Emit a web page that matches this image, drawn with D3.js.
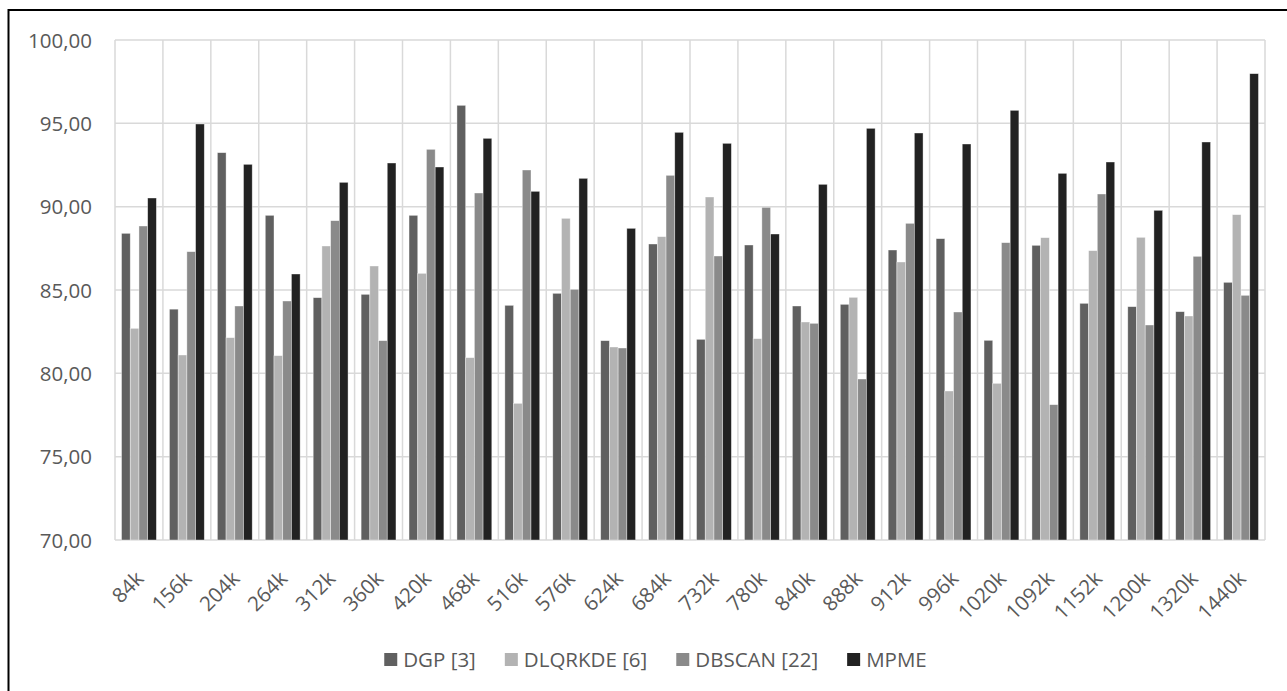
<!DOCTYPE html>
<html>
<head>
<meta charset="utf-8">
<script src="https://cdn.jsdelivr.net/npm/d3@7"></script>
<style>
  html, body { margin: 0; padding: 0; background: #fff; }
  svg { display: block; }
  text { font-family: "Open Sans", "DejaVu Sans", sans-serif; fill: #595959; }
</style>
</head>
<body>
<svg id="chart" width="1287" height="691"></svg>
<script>
// Data sizes on the horizontal axis
const categories = ["84k","156k","204k","264k","312k","360k","420k","468k","516k","576k","624k","684k",
                    "732k","780k","840k","888k","912k","996k","1020k","1092k","1152k","1200k","1320k","1440k"];

// Scores of each method per data size
const dgp     = [88.40,83.85,93.24,89.48,84.54,84.74,89.48,96.08,84.08,84.80,81.96,87.76,
                 82.04,87.70,84.04,84.14,87.40,88.08,81.98,87.68,84.20,84.00,83.70,85.46];
const dlqrkde = [82.70,81.10,82.14,81.06,87.64,86.44,86.00,80.94,78.20,89.30,81.58,88.20,
                 90.58,82.08,83.08,84.56,86.68,78.94,79.40,88.14,87.36,88.16,83.44,89.52];
const dbscan  = [88.84,87.30,84.04,84.34,89.16,81.96,93.44,90.82,92.20,85.04,81.52,91.88,
                 87.04,89.96,83.00,79.66,89.00,83.68,87.84,78.12,90.76,82.90,87.02,84.68];
const mpme    = [90.52,94.96,92.54,85.96,91.46,92.62,92.38,94.10,90.92,91.70,88.70,94.46,
                 93.80,88.36,91.34,94.70,94.42,93.76,95.78,92.00,92.68,89.78,93.88,97.98];

const seriesNames = ["DGP [3]", "DLQRKDE [6]", "DBSCAN [22]", "MPME"];
const seriesValues = [dgp, dlqrkde, dbscan, mpme];
const seriesColors = ["#606060", "#b3b3b3", "#8a8a8a", "#222222"];

const yTicks = [70, 75, 80, 85, 90, 95, 100];

const svg = d3.select("#chart");

// Outer frame (only its top and left edges fall inside the page)
svg.append("rect")
  .attr("x", 8.5).attr("y", 10)
  .attr("width", 1300).attr("height", 700)
  .attr("fill", "none").attr("stroke", "#000").attr("stroke-width", 2);

const plot = { left: 115, right: 1265, top: 40, bottom: 540 };

const gap = 1.5 / 5.5;
const x0 = d3.scaleBand()
  .domain(categories)
  .range([plot.left, plot.right])
  .paddingInner(gap)
  .paddingOuter(gap / 2);

const x1 = d3.scaleBand()
  .domain(d3.range(seriesNames.length))
  .range([0, x0.bandwidth()]);

const y = d3.scaleLinear().domain([70, 100]).range([plot.bottom, plot.top]);

// Horizontal gridlines
svg.append("g")
  .selectAll("line")
  .data(yTicks)
  .join("line")
  .attr("x1", plot.left).attr("x2", plot.right)
  .attr("y1", d => y(d)).attr("y2", d => y(d))
  .attr("stroke", "#d9d9d9").attr("stroke-width", 1.5);

// Vertical gridlines at category boundaries
const step = x0.step();
svg.append("g")
  .selectAll("line")
  .data(d3.range(categories.length + 1))
  .join("line")
  .attr("x1", i => plot.left + i * step).attr("x2", i => plot.left + i * step)
  .attr("y1", plot.top).attr("y2", plot.bottom)
  .attr("stroke", "#d9d9d9").attr("stroke-width", 1.5);

// Y axis labels
const yAxis = d3.axisLeft(y)
  .tickValues(yTicks)
  .tickSize(0)
  .tickPadding(0)
  .tickFormat(d => d3.format(".2f")(d).replace(".", ","));
const gy = svg.append("g")
  .attr("transform", `translate(92,0)`)
  .call(yAxis);
gy.select(".domain").remove();
gy.selectAll("text")
  .style("font-size", "20.5px")
  .attr("fill", "#595959")
  .attr("dy", "0.35em");

// Bars
const groups = svg.append("g")
  .selectAll("g")
  .data(categories)
  .join("g")
  .attr("transform", d => `translate(${x0(d)},0)`);

groups.selectAll("rect")
  .data((d, i) => seriesValues.map((vals, s) => ({ s, v: vals[i] })))
  .join("rect")
  .attr("x", d => x1(d.s))
  .attr("width", x1.bandwidth())
  .attr("y", d => y(d.v))
  .attr("height", d => y(70) - y(d.v))
  .attr("fill", d => seriesColors[d.s])
  .attr("stroke", "rgba(255,255,255,0.55)")
  .attr("stroke-width", 0.7);

// X axis labels, rotated
const xAxis = d3.axisBottom(x0).tickSize(0).tickPadding(0);
const gx = svg.append("g")
  .attr("transform", `translate(0,${plot.bottom})`)
  .call(xAxis);
gx.select(".domain").remove();
gx.selectAll("text")
  .style("font-size", "20.5px")
  .attr("fill", "#595959")
  .attr("text-anchor", "end")
  .attr("y", 0).attr("dy", 0)
  .attr("transform", "translate(6,40) rotate(-45)");

// Legend
const legend = svg.append("g");
const items = legend.selectAll("g")
  .data(seriesNames)
  .join("g");
items.append("rect")
  .attr("x", 0).attr("y", -6.5)
  .attr("width", 13).attr("height", 13)
  .attr("fill", (d, i) => seriesColors[i]);
items.append("text")
  .attr("x", 19).attr("dy", "0.35em")
  .style("font-size", "20.5px")
  .text(d => d);

let offset = 0;
items.each(function () {
  const w = d3.select(this).select("text").node().getComputedTextLength();
  d3.select(this).attr("transform", `translate(${offset},0)`);
  offset += 19 + w + 29;
});
const totalWidth = offset - 29;
legend.attr("transform", `translate(${655.5 - totalWidth / 2},659.5)`);
</script>
</body>
</html>
